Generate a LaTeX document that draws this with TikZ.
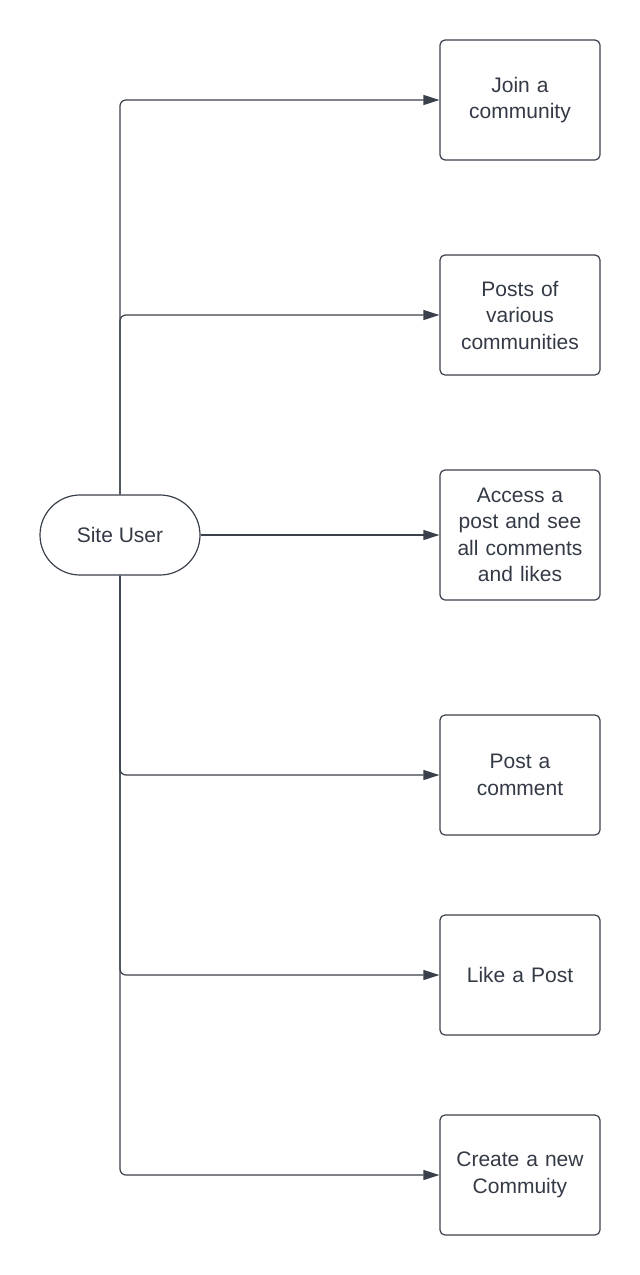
\documentclass[tikz,border=0pt]{standalone}
\usepackage{fontspec}
\setmainfont{Liberation Sans}
\usetikzlibrary{arrows.meta}
\definecolor{ink}{HTML}{3A414A}
\definecolor{txt}{HTML}{333A45}
\tikzset{
  box/.style={draw=ink, line width=1.2pt, rounded corners=5pt, minimum width=160pt, minimum height=120pt, align=center, text=txt, font=\fontsize{21}{26.5}\selectfont, inner sep=0pt, text width=150pt},
  userbox/.style={draw=ink, line width=1.2pt, rounded corners=40pt, minimum width=160pt, minimum height=80pt, align=center, text=txt, font=\fontsize{21}{26.5}\selectfont, inner sep=0pt},
  conn/.style={draw=ink, line width=1.2pt, rounded corners=6pt, -{Triangle[length=16pt,width=10pt]}},
}
\begin{document}
\begin{tikzpicture}[x=1pt,y=-1pt]
\useasboundingbox (0,0) rectangle (640,1275);
\node[userbox] (user) at (120,535) {Site User};
\node[box] (b1) at (520,100) {Join a\\community};
\node[box] (b2) at (520,315) {Posts of\\various\\communities};
\node[box, minimum height=130pt] (b3) at (520,535) {Access a\\post and see\\all comments\\and likes};
\node[box] (b4) at (520,775) {Post a\\comment};
\node[box] (b5) at (520,975) {Like a Post};
\node[box] (b6) at (520,1175) {Create a new\\Commuity};
\draw[conn] (user.north) |- (b1.west);
\draw[conn] (user.north) |- (b2.west);
\draw[conn] (user.east) -- (b3.west);
\draw[conn] (user.south) |- (b4.west);
\draw[conn] (user.south) |- (b5.west);
\draw[conn] (user.south) |- (b6.west);
\end{tikzpicture}
\end{document}
